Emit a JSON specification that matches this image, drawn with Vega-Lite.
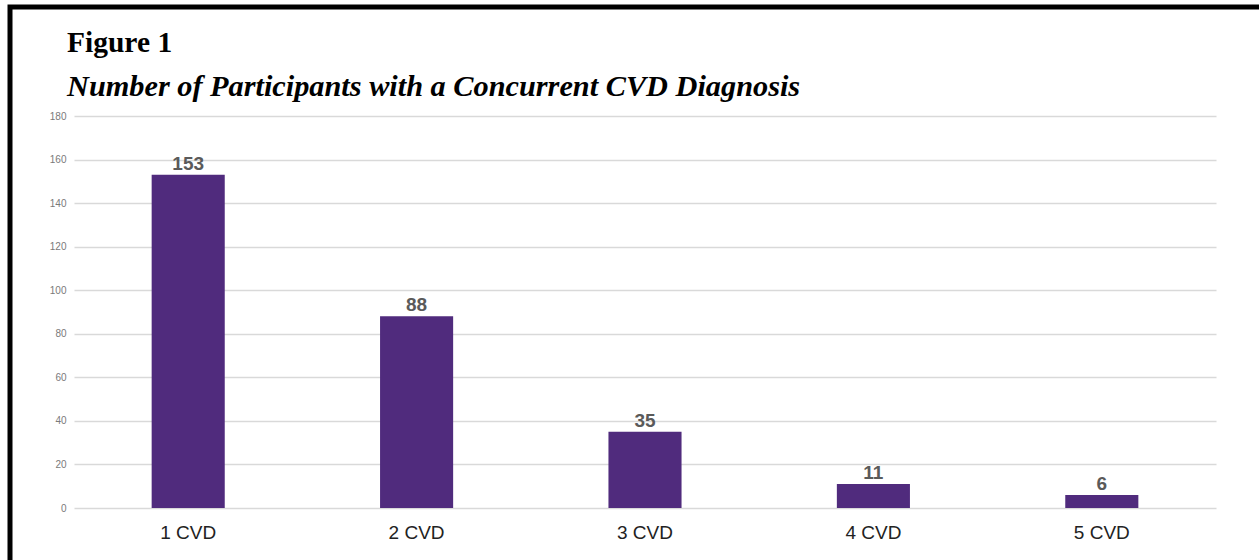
{
  "$schema": "https://vega.github.io/schema/vega-lite/v6.json",
  "width": 1252,
  "height": 593,
  "autosize": {"type": "none"},
  "padding": {"left": 10, "top": 7, "right": -3, "bottom": -40},
  "background": "white",
  "title": {
    "text": "Figure 1",
    "subtitle": "Number of Participants with a Concurrent CVD Diagnosis",
    "anchor": "start",
    "frame": "group",
    "dx": 57,
    "offset": -96,
    "font": "Liberation Serif",
    "fontSize": 29.5,
    "fontWeight": "bold",
    "color": "#000000",
    "subtitleFont": "Liberation Serif",
    "subtitleFontSize": 30.3,
    "subtitleFontWeight": "bold",
    "subtitleFontStyle": "italic",
    "subtitleColor": "#000000",
    "subtitlePadding": 13
  },
  "data": {
    "values": [
      {"category": "1 CVD", "count": 153},
      {"category": "2 CVD", "count": 88},
      {"category": "3 CVD", "count": 35},
      {"category": "4 CVD", "count": 11},
      {"category": "5 CVD", "count": 6}
    ]
  },
  "encoding": {
    "x": {
      "field": "category",
      "type": "nominal",
      "sort": null,
      "scale": {"range": [64, 1206], "paddingInner": 0.68, "paddingOuter": 0.34},
      "axis": {
        "orient": "bottom",
        "offset": -92,
        "title": null,
        "domain": false,
        "ticks": false,
        "tickSize": 0,
        "labelAngle": 0,
        "labelPadding": 15,
        "labelFont": "Liberation Sans",
        "labelFontSize": 19,
        "labelColor": "#222222",
        "grid": false
      }
    },
    "y": {
      "field": "count",
      "type": "quantitative",
      "scale": {"domain": [0, 180], "range": [501, 109], "nice": false, "zero": true},
      "axis": {
        "orient": "left",
        "offset": -64,
        "title": null,
        "values": [0, 20, 40, 60, 80, 100, 120, 140, 160, 180],
        "domain": false,
        "ticks": false,
        "tickSize": 0,
        "labelPadding": 8,
        "labelFont": "Liberation Sans",
        "labelFontSize": 10,
        "labelColor": "#7a7a7a",
        "grid": true,
        "gridColor": "#d9d9d9",
        "gridWidth": 1.5
      }
    }
  },
  "layer": [
    {"mark": {"type": "bar", "color": "#502b7d"}},
    {
      "mark": {
        "type": "text",
        "dy": -5,
        "baseline": "alphabetic",
        "font": "Liberation Sans",
        "fontSize": 19,
        "fontWeight": "bold",
        "color": "#5a5a5a"
      },
      "encoding": {"text": {"field": "count", "type": "quantitative"}}
    }
  ],
  "config": {"view": {"stroke": "#000000", "strokeWidth": 5}}
}
